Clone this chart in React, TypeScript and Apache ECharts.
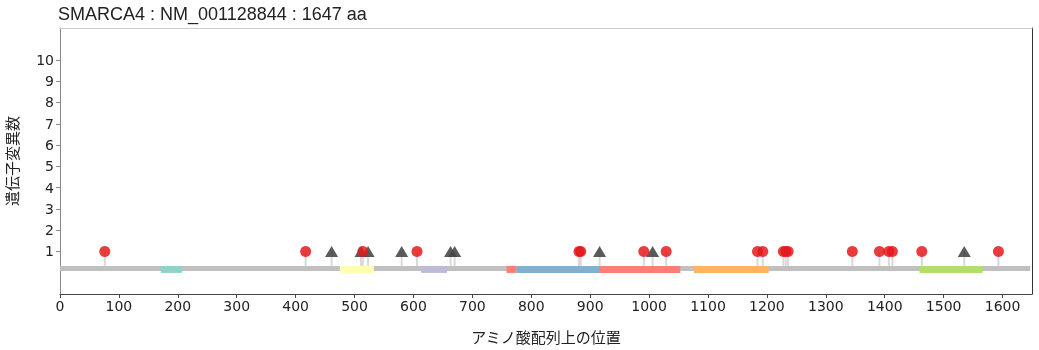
import React, { useEffect, useRef } from "react";
import * as echarts from "echarts";

const TITLE = "SMARCA4 : NM_001128844 : 1647 aa";
const PROTEIN_LENGTH = 1647;
const X_TICKS = [0, 100, 200, 300, 400, 500, 600, 700, 800, 900, 1000, 1100, 1200, 1300, 1400, 1500, 1600];
const Y_TICKS = [1, 2, 3, 4, 5, 6, 7, 8, 9, 10];

// domains: start, end, colour
const DOMAIN_START = [171, 475, 613, 758, 775, 915, 1076, 1459];
const DOMAIN_END = [207, 533, 657, 775, 915, 1053, 1203, 1566];
const DOMAIN_COLORS = ["#8dd3c7", "#ffffb3", "#bebada", "#fb8072", "#80b1d3", "#fb8072", "#fdb462", "#b3de69"];

// circles (red) mutation positions and counts
const CIRCLE_POS = [76, 417, 514, 606, 881, 884, 991, 1029, 1184, 1193, 1228, 1232, 1236, 1345, 1391, 1407, 1413, 1463, 1593];
const CIRCLE_COUNT = [1, 1, 1, 1, 1, 1, 1, 1, 1, 1, 1, 1, 1, 1, 1, 1, 1, 1, 1];

// triangles (dark grey) mutation positions and counts
const TRI_POS = [461, 511, 523, 580, 663, 670, 916, 1006, 1535];
const TRI_COUNT = [1, 1, 1, 1, 1, 1, 1, 1, 1];

const BAR_Y = 0.32;

export default function App() {
  const ref = useRef<HTMLDivElement>(null);

  useEffect(() => {
    if (!ref.current) return;
    const chart = echarts.init(ref.current, null, { renderer: "svg" });

    const circleData = CIRCLE_POS.map((p, i) => [p, CIRCLE_COUNT[i]]);
    const triData = TRI_POS.map((p, i) => [p, TRI_COUNT[i]]);
    const stemData = [...triData, ...circleData];
    const domainData = DOMAIN_START.map((s, i) => [s, DOMAIN_END[i], i]);

    const tickFont = { fontFamily: "DejaVu Sans", fontSize: 14, color: "#222" };
    const cjkName = { fontFamily: "Noto Sans CJK JP", fontSize: 15, color: "#222" };

    chart.setOption({
      animation: false,
      title: {
        text: TITLE,
        left: 53,
        top: 0,
        textStyle: { fontFamily: "Liberation Sans", fontSize: 18, fontWeight: "normal", color: "#222" },
      },
      grid: { left: 60, right: 7, top: 28, bottom: 56, show: false, containLabel: false, outerBoundsMode: "none" },
      xAxis: [
        {
          type: "value",
          min: 0,
          max: 1650,
          position: "bottom",
          name: "アミノ酸配列上の位置",
          nameLocation: "middle",
          nameGap: 35,
          nameTextStyle: cjkName,
          axisLine: { show: true, onZero: false, lineStyle: { color: "#444", width: 1 } },
          axisTick: { show: true, length: 4, customValues: X_TICKS, lineStyle: { color: "#444" } },
          axisLabel: { customValues: X_TICKS, margin: 5, formatter: (v: number) => String(v), ...tickFont },
          splitLine: { show: false },
        },
        {
          type: "value",
          min: 0,
          max: 1650,
          position: "top",
          axisLine: { show: true, onZero: false, lineStyle: { color: "#cccccc", width: 1 } },
          axisTick: { show: false },
          axisLabel: { show: false },
          splitLine: { show: false },
        },
      ],
      yAxis: [
        {
          type: "value",
          min: -1,
          max: 11.5,
          position: "left",
          name: "遺伝子変異数",
          nameLocation: "middle",
          nameGap: 41,
          nameRotate: 90,
          nameTextStyle: cjkName,
          axisLine: { show: true, onZero: false, lineStyle: { color: "#888", width: 1 } },
          axisTick: { show: true, length: 4, customValues: Y_TICKS, lineStyle: { color: "#888" } },
          axisLabel: { customValues: Y_TICKS, margin: 6, formatter: (v: number) => String(v), ...tickFont },
          splitLine: { show: false },
        },
        {
          type: "value",
          min: -1,
          max: 11.5,
          position: "right",
          axisLine: { show: true, onZero: false, lineStyle: { color: "#333", width: 1 } },
          axisTick: { show: false },
          axisLabel: { show: false },
          splitLine: { show: false },
        },
      ],
      series: [
        {
          type: "custom",
          name: "backbone",
          silent: true,
          z: 1,
          data: [[0, PROTEIN_LENGTH]],
          renderItem: (params: any, api: any) => {
            const s = api.coord([api.value(0), BAR_Y]);
            const e = api.coord([api.value(1), BAR_Y]);
            return {
              type: "rect",
              shape: { x: s[0], y: s[1], width: e[0] - s[0], height: 5 },
              style: { fill: "#c0c0c0" },
            };
          },
        },
        {
          type: "custom",
          name: "domains",
          silent: true,
          z: 2,
          data: domainData,
          renderItem: (params: any, api: any) => {
            const s = api.coord([api.value(0), BAR_Y]);
            const e = api.coord([api.value(1), BAR_Y]);
            const idx = api.value(2);
            return {
              type: "rect",
              shape: { x: s[0], y: s[1], width: e[0] - s[0], height: 7 },
              style: { fill: DOMAIN_COLORS[idx] },
            };
          },
        },
        {
          type: "custom",
          name: "stems",
          silent: true,
          z: 3,
          data: stemData,
          renderItem: (params: any, api: any) => {
            const s = api.coord([api.value(0), BAR_Y]);
            const e = api.coord([api.value(0), api.value(1)]);
            return {
              type: "line",
              shape: { x1: s[0], y1: s[1], x2: e[0], y2: e[1] },
              style: { stroke: "#d9d9d9", lineWidth: 2 },
            };
          },
        },
        {
          type: "scatter",
          name: "triangles",
          z: 4,
          symbol: "triangle",
          symbolSize: [13, 11],
          itemStyle: { color: "#444444", opacity: 0.88 },
          data: triData,
        },
        {
          type: "scatter",
          name: "circles",
          z: 5,
          symbol: "circle",
          symbolSize: 11,
          itemStyle: { color: "#e41a1c", opacity: 0.85 },
          data: circleData,
        },
      ],
    });

    return () => chart.dispose();
  }, []);

  return <div ref={ref} style={{ position: "fixed", left: 0, top: 0, width: 1039, height: 350 }} />;
}
